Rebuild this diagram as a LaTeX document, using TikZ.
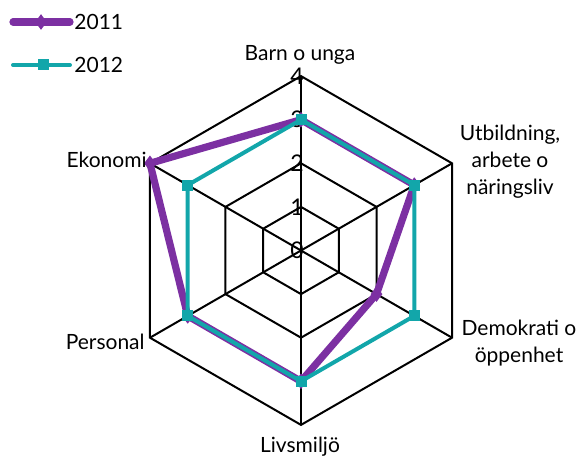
\documentclass[tikz,border=0pt]{standalone}
\usepackage{fontspec}
\setmainfont{Lato}
\usepackage{tikz}
\usetikzlibrary{positioning,shapes.geometric}
\definecolor{lila}{RGB}{124,48,162}
\definecolor{turkos}{RGB}{18,166,170}

\begin{document}
\begin{tikzpicture}[x=0.5pt,y=0.5pt,
	gridline/.style={black,line width=1pt},
	lab/.style={font=\fontsize{10.5}{13.5}\selectfont,inner sep=1pt,align=center},
	tick/.style={font=\fontsize{11.5}{12}\selectfont,inner sep=0pt,anchor=east},
	s11/.style={lila,line width=3.6pt,line join=round,line cap=round},
	s12/.style={turkos,line width=2pt,line join=round,line cap=round},
	diam/.style={fill=lila,diamond,minimum width=6pt,minimum height=8pt,inner sep=0pt},
	sq/.style={fill=turkos,rectangle,minimum size=5.5pt,inner sep=0pt}]
	\useasboundingbox (0,0) rectangle (582,456);
	
	\begin{scope}[shift={(301,205.5)}]
	% the web
	\foreach \r in {1,...,4}
		\draw[gridline] (90:\r*43.6) \foreach \a in {30,-30,-90,210,150}{ -- (\a:\r*43.6)} -- cycle;
	\coordinate (c) at (0,0);
	\foreach \a [count=\i] in {90,30,-30,-90,210,150}
		\coordinate (v\i) at (\a:174.5);
	\foreach \i in {1,...,6}
		\draw[gridline] (c) -- (v\i);
	\foreach \v in {0,...,4}
		\node[tick] (t\v) at ([xshift=1.5]90:\v*43.6) {\v};
	
	% 2011
	\foreach \a/\v [count=\i] in {90/3,30/3,-30/2,-90/3,210/3,150/4}
		\coordinate (p\i) at (\a:\v*43.6);
	\draw[s11] (p1) -- (p2) -- (p3) -- (p4) -- (p5) -- (p6) -- cycle;
	\foreach \i in {1,...,6}
		\node[diam] (m\i) at (p\i) {};
	
	% 2012
	\foreach \a/\v [count=\i] in {90/3,30/3,-30/3,-90/3,210/3,150/3}
		\coordinate (q\i) at (\a:\v*43.6);
	\draw[s12] (q1) -- (q2) -- (q3) -- (q4) -- (q5) -- (q6) -- cycle;
	\foreach \i in {1,...,6}
		\node[sq] (n\i) at (q\i) {};
	\end{scope}
	
	% axis names
	\node[lab] (barn) at (300,401) {Barn o unga};
	\node[lab] (utb) at (510,294) {Utbildning,\\arbete o\\näringsliv};
	\node[lab] (demo) at (519,113) {Demokrati o\\öppenhet};
	\node[lab,anchor=north] (liv) at (300,21) {Livsmiljö};
	\node[lab,anchor=east] (pers) at (147,114) {Personal};
	\node[lab,anchor=east] (eko) at (149,296) {Ekonomi};
	
	% legend
	\coordinate (l1a) at (13,434);
	\coordinate (l1b) at (70,434);
	\draw[s11] (l1a) -- (l1b);
	\node[diam] (k1) at (41,434) {};
	\node[lab,anchor=west] (y1) at (72,434) {2011};
	\coordinate (l2a) at (13,391);
	\coordinate (l2b) at (70,391);
	\draw[s12] (l2a) -- (l2b);
	\node[sq] (k2) at (43,391) {};
	\node[lab,anchor=west] (y2) at (72,391) {2012};
\end{tikzpicture}
\end{document}
